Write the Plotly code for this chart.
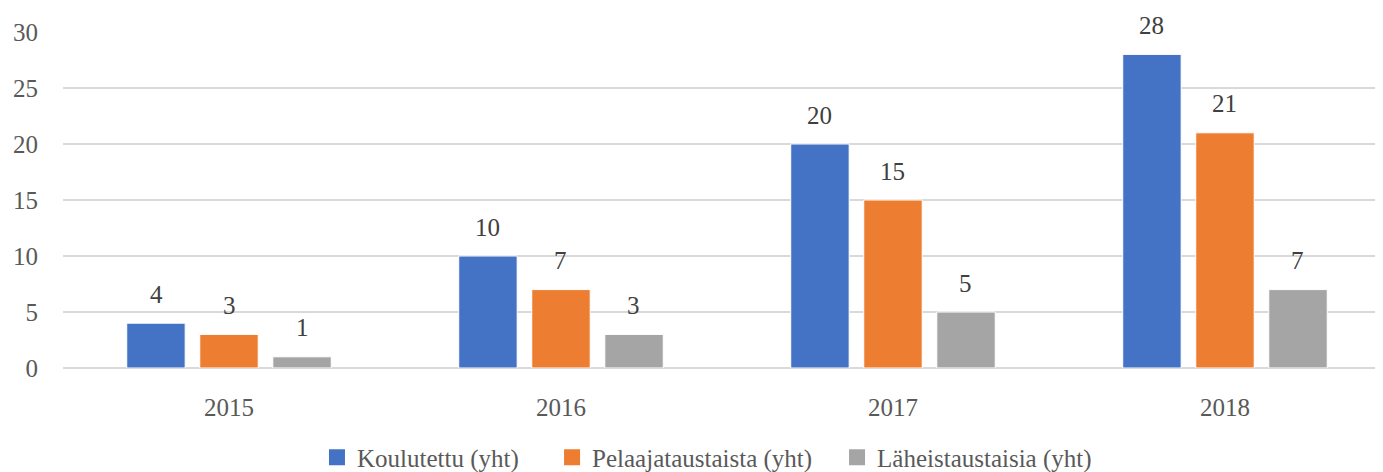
import plotly.graph_objects as go

years = ["2015", "2016", "2017", "2018"]
series_names = ["Koulutettu (yht)", "Pelaajataustaista (yht)", "Läheistaustaisia (yht)"]
koulutettu = [4, 10, 20, 28]
pelaaja = [3, 7, 15, 21]
laheis = [1, 3, 5, 7]
colors = ["#4472C4", "#ED7D31", "#A5A5A5"]

values = [koulutettu, pelaaja, laheis]
font_family = "Liberation Serif"
txt_color = "#595959"
label_color = "#404040"
FS = 25

fig = go.Figure()
for name, vals, col in zip(series_names, values, colors):
    fig.add_trace(go.Bar(
        x=years, y=vals, name=name, showlegend=False,
        marker=dict(color=col, line=dict(color="white", width=1)),
    ))

# legend entries (square swatches), one legend each so they can be placed like the original
legend_ids = ["legend", "legend2", "legend3"]
legend_x = [0.1924, 0.3705, 0.5864]
for name, col, lid in zip(series_names, colors, legend_ids):
    fig.add_trace(go.Scatter(
        x=[None], y=[None], mode="markers", name=name, legend=lid,
        marker=dict(symbol="square", size=16, color=col),
    ))

# data labels above bars
offsets = [-73, 0, 73]
annotations = []
for vals, off in zip(values, offsets):
    for i, v in enumerate(vals):
        annotations.append(dict(x=i, y=v, xref="x", yref="y", text=str(v), showarrow=False,
                                xshift=off, yshift=29, yanchor="middle", xanchor="center",
                                font=dict(size=FS, color=label_color, family=font_family)))

legend_common = dict(orientation="h", xanchor="left", y=-0.266, yanchor="middle",
                     font=dict(family=font_family, size=FS, color=txt_color),
                     bgcolor="rgba(0,0,0,0)")
layout_legends = {}
for lid, lx in zip(legend_ids, legend_x):
    layout_legends[lid] = dict(x=lx, **legend_common)

# page has an 8px body margin; figure sized so it ends exactly at the window edge
fig.update_layout(
    width=1375, height=464,
    margin=dict(l=55, r=0, t=24, b=104, autoexpand=False),
    paper_bgcolor="white", plot_bgcolor="white",
    barmode="group", bargap=0.34, bargroupgap=0.2,
    font=dict(family=font_family, size=FS, color=txt_color),
    annotations=annotations,
    xaxis=dict(type="category", range=[-0.5, 3.476], showgrid=False, showline=False,
               automargin=False, ticks="", ticklabelstandoff=22,
               tickfont=dict(family=font_family, size=FS, color=txt_color)),
    yaxis=dict(range=[0, 30], dtick=5, showgrid=True, gridcolor="#D9D9D9", automargin=False,
               gridwidth=1.5, zeroline=True, zerolinecolor="#D9D9D9", zerolinewidth=1.5,
               showline=False, ticks="", ticklabelstandoff=24,
               tickfont=dict(family=font_family, size=FS, color=txt_color)),
    showlegend=True,
    **layout_legends,
)

fig.write_html("out.html")
